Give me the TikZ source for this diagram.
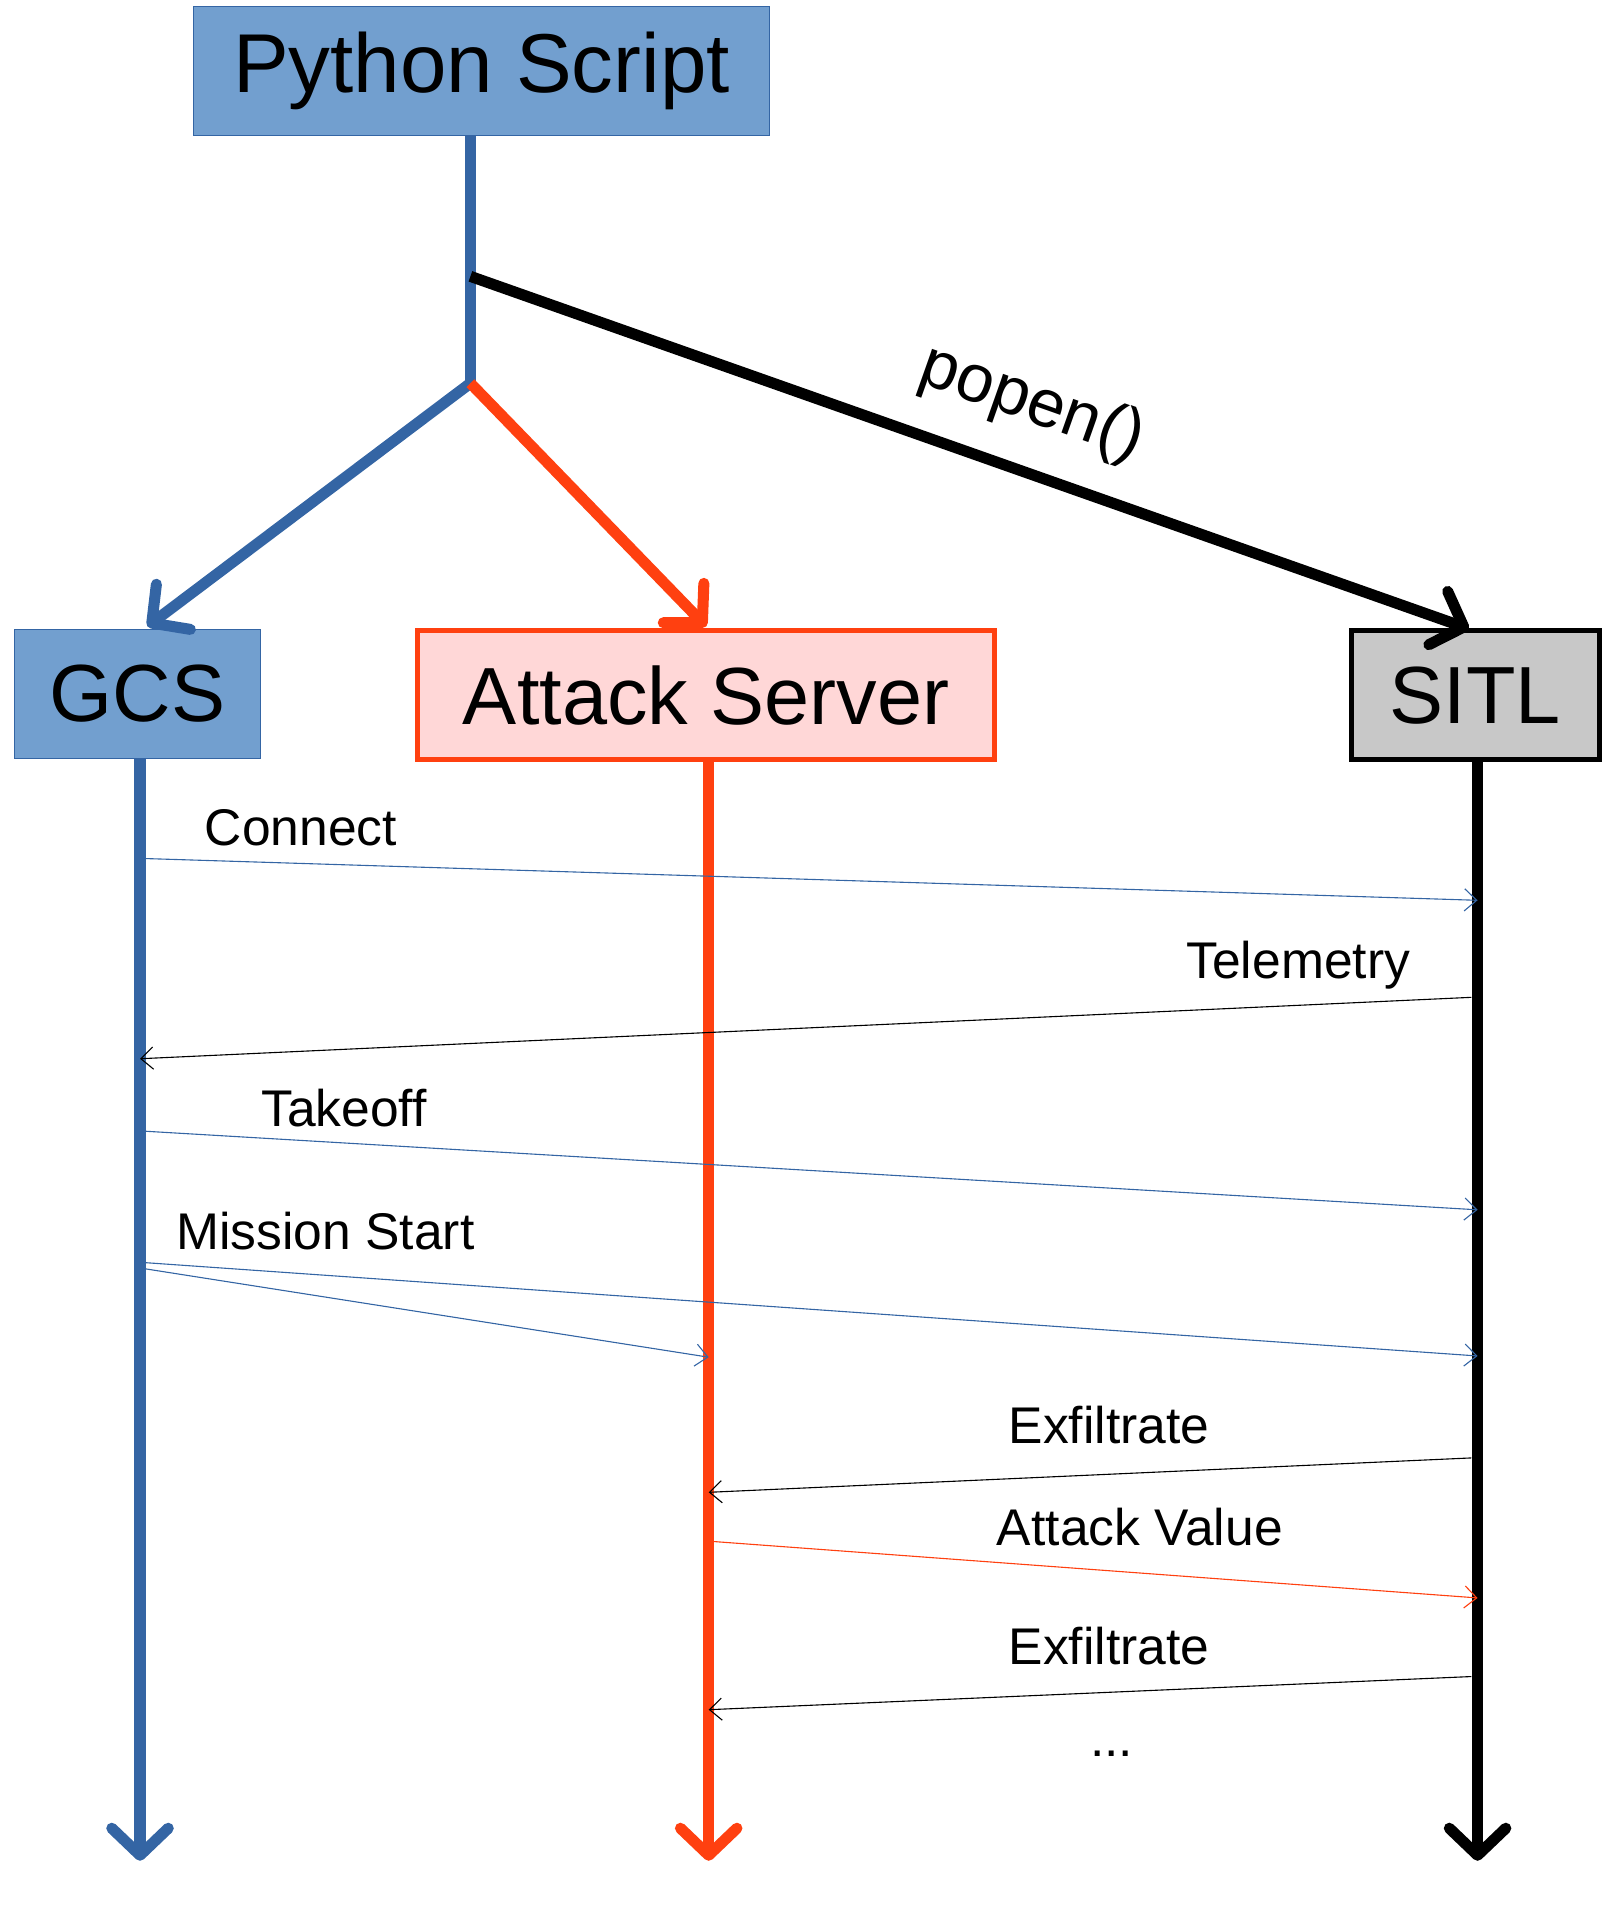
\documentclass[tikz,border=0pt]{standalone}
\usepackage{fontspec}
\setmainfont{Liberation Sans}
\usetikzlibrary{arrows.meta, positioning}
\definecolor{pyblue}{HTML}{729FCF}
\definecolor{lnblue}{HTML}{3465A4}
\definecolor{atred}{HTML}{FF4010}
\definecolor{atpink}{HTML}{FFD7D7}
\definecolor{sitlgray}{HTML}{C8C8C8}
\begin{document}
\begin{tikzpicture}[x=1pt,y=-1pt,
  box/.style={draw, minimum height=105pt, inner sep=0pt, font=\fontsize{66}{70}\selectfont},
  thick line/.style={line width=9pt, -{Straight Barb[length=22pt,width=46pt,line width=9pt,round]}},
  msg/.style={line width=0.9pt, -{Straight Barb[length=10pt,width=18pt,line width=0.9pt]}},
  lbl/.style={font=\fontsize{42}{46}\selectfont, inner sep=0pt}]
  \useasboundingbox (0,0) rectangle (1314,1573);
  % boxes
  \node[box, fill=pyblue, draw=lnblue, line width=0.8pt, minimum width=469pt,
        font=\fontsize{68}{72}\selectfont] (psc) at (392,58) {Python Script};
  \node[box, fill=pyblue, draw=lnblue, line width=0.8pt, minimum width=200pt] (gcs) at (112,565) {GCS};
  \node[box, fill=atpink, draw=atred, line width=4pt, minimum width=470pt] (atk) at (575,566) {Attack Server};
  \node[box, fill=sitlgray, draw=black, line width=4pt, minimum width=202pt] (sitl) at (1201,566) {SITL};
  % fork points
  \coordinate (fork) at (383,225);
  \coordinate (split) at (383,312);
  \draw[lnblue, line width=9pt] (psc.south -| split) -- (split);
  \draw[thick line, black] (fork) -- node[sloped, above=24pt, pos=0.54, lbl, font=\fontsize{55}{60}\selectfont] {popen()} (1196,512);
  \draw[thick line, lnblue] (split) -- (120,510);
  \draw[thick line, atred] (split) -- (575,510);
  % lifelines
  \coordinate (gend) at (114,1515);
  \coordinate (aend) at (577,1515);
  \coordinate (send) at (1203,1515);
  \draw[thick line, lnblue] (gcs.south -| gend) -- (gend);
  \draw[thick line, atred] (atk.south -| aend) -- (aend);
  \draw[thick line, black] (sitl.south -| send) -- (send);
  % messages
  \coordinate (c1) at (118,699);  \coordinate (c2) at (1203,733);
  \coordinate (t1) at (1198,812); \coordinate (t2) at (114,862);
  \coordinate (k1) at (118,921);  \coordinate (k2) at (1203,985);
  \coordinate (m1) at (118,1028); \coordinate (m2) at (1203,1104);
  \coordinate (m3) at (118,1033); \coordinate (m4) at (577,1105);
  \coordinate (e1) at (1198,1187); \coordinate (e2) at (577,1215);
  \coordinate (v1) at (580,1255); \coordinate (v2) at (1203,1301);
  \coordinate (f1) at (1198,1365); \coordinate (f2) at (577,1392);
  \draw[msg, lnblue] (c1) -- (c2);
  \draw[msg, black] (t1) -- (t2);
  \draw[msg, lnblue] (k1) -- (k2);
  \draw[msg, lnblue] (m1) -- (m2);
  \draw[msg, lnblue] (m3) -- (m4);
  \draw[msg, black] (e1) -- (e2);
  \draw[msg, atred] (v1) -- (v2);
  \draw[msg, black] (f1) -- (f2);
  % labels
  \node[lbl] (lc) at (245,674) {Connect};
  \node[lbl] (lt) at (1057,786) {Telemetry};
  \node[lbl] (lk) at (280,902) {Takeoff};
  \node[lbl] (lm) at (265,1002) {Mission Start};
  \node[lbl] (le) at (903,1160) {Exfiltrate};
  \node[lbl] (lv) at (928,1243) {Attack Value};
  \node[lbl] (lf) at (903,1340) {Exfiltrate};
  \node[lbl] (ld) at (905,1428) {...};
\end{tikzpicture}
\end{document}
